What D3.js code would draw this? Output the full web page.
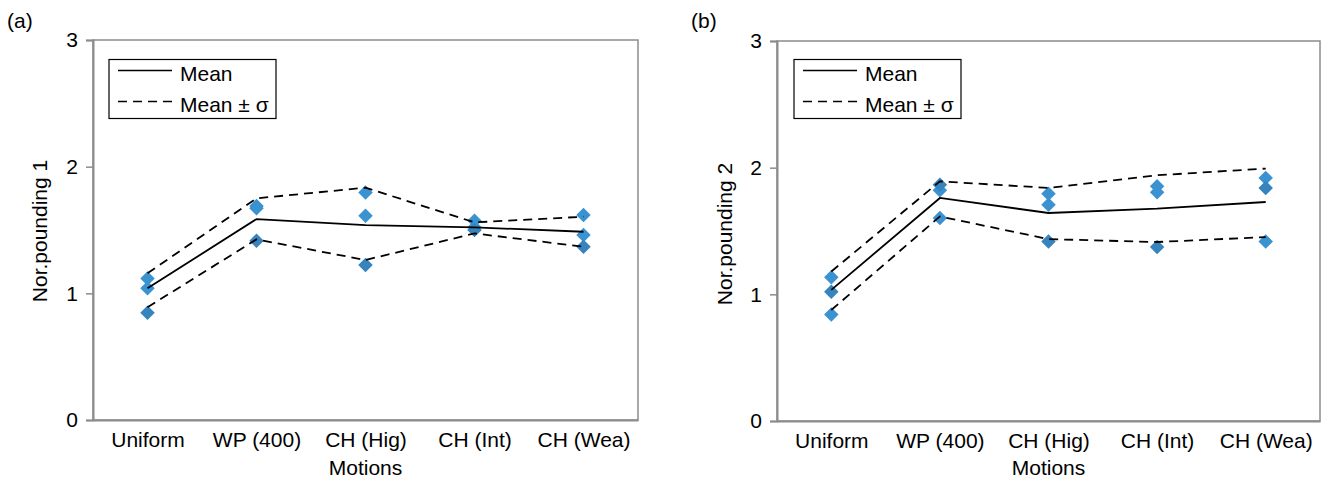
<!DOCTYPE html>
<html>
<head>
<meta charset="utf-8">
<script src="https://cdn.jsdelivr.net/npm/d3@7/dist/d3.min.js"></script>
<style>
  html, body { margin: 0; padding: 0; background: #fff; }
  svg { display: block; font-family: "Liberation Sans", Arial, Helvetica, sans-serif; }
</style>
</head>
<body>
<div id="chart"></div>
<script>
// categories and tick labels
var motions = ["Uniform", "WP (400)", "CH (Hig)", "CH (Int)", "CH (Wea)"];
var yTicks = [0, 1, 2, 3];

// (a) Nor.pounding 1 - individual records per motion
var a_run1 = [1.118, 1.689, 1.797, 1.573, 1.618];
var a_run2 = [1.040, 1.671, 1.613, 1.521, 1.460];
var a_run3 = [0.847, 1.415, 1.223, 1.500, 1.368];
var a_mean  = [1.040, 1.586, 1.539, 1.521, 1.486];
var a_upper = [1.158, 1.750, 1.834, 1.560, 1.605];
var a_lower = [0.890, 1.426, 1.263, 1.473, 1.368];

// (b) Nor.pounding 2
var b_run1 = [1.135, 1.821, 1.795, 1.853, 1.919];
var b_run2 = [0.841, 1.602, 1.708, 1.805, 1.417];
var b_run3 = [1.020, 1.866, 1.417, 1.373, 1.840];
var b_mean  = [1.035, 1.761, 1.642, 1.676, 1.729];
var b_upper = [1.180, 1.892, 1.840, 1.940, 1.993];
var b_lower = [0.876, 1.615, 1.436, 1.413, 1.452];

(function() {
  "use strict";

  var W = 1322, H = 486;
  var light = "#3a93d0", dark = "#3683bd", axisGrey = "#8c8c8c";
  var fontSize = "21px", dash = "9,6";

  var svg = d3.select("#chart").append("svg")
      .attr("width", W)
      .attr("height", H);

  /**
   * draws one panel: frame, axes, runs as diamonds, mean and mean +- sigma lines
   */
  function panel(opts) {
    var g = svg.append("g");
    var x = d3.scalePoint().domain(motions).range([opts.left, opts.right]).padding(0.5);
    var y = d3.scaleLinear().domain([0, 3]).range([opts.bottom, opts.top]);

    // plot frame
    g.append("rect")
        .attr("x", opts.left).attr("y", opts.top)
        .attr("width", opts.right - opts.left).attr("height", opts.bottom - opts.top)
        .attr("fill", "none").attr("stroke", axisGrey).attr("stroke-width", 1.5);

    // y axis
    var ya = g.append("g")
        .attr("transform", "translate(" + opts.left + ",0)")
        .call(d3.axisLeft(y).tickValues(yTicks).tickFormat(d3.format("d")).tickSize(7).tickPadding(8));
    // x axis (labels only)
    var xa = g.append("g")
        .attr("transform", "translate(0," + opts.bottom + ")")
        .call(d3.axisBottom(x).tickSize(0).tickPadding(12));
    [ya, xa].forEach(function(ax) {
      ax.select(".domain").attr("stroke", axisGrey).attr("stroke-width", 2);
      ax.selectAll(".tick line").attr("stroke", axisGrey).attr("stroke-width", 1.5);
      ax.selectAll("text").attr("fill", "#000").style("font-size", fontSize);
    });

    // axis titles
    g.append("text")
        .attr("x", (opts.left + opts.right) / 2).attr("y", 475)
        .attr("text-anchor", "middle").style("font-size", fontSize)
        .text("Motions");
    g.append("text")
        .attr("transform", "translate(" + opts.titleX + "," + opts.titleY + ") rotate(-90)")
        .attr("text-anchor", "middle").attr("dy", "0.35em").style("font-size", fontSize)
        .text(opts.yTitle);
    g.append("text")
        .attr("x", opts.tagX).attr("y", 28).style("font-size", fontSize)
        .text(opts.tag);

    // diamonds
    var diamond = d3.symbol().type(d3.symbolSquare).size(105);
    opts.runs.forEach(function(r) {
      g.selectAll(null)
          .data(r.values)
          .enter()
        .append("path")
          .attr("d", diamond)
          .attr("fill", r.color)
          .attr("transform", function(d, i) {
            return "translate(" + x(motions[i]) + "," + y(d) + ") rotate(45)";
          });
    });

    // mean and mean +- sigma
    var line = d3.line()
        .x(function(d, i) { return x(motions[i]); })
        .y(function(d) { return y(d); });
    [[opts.mean, null], [opts.upper, dash], [opts.lower, dash]].forEach(function(l) {
      g.append("path")
          .attr("d", line(l[0]))
          .attr("fill", "none")
          .attr("stroke", "#000")
          .attr("stroke-width", 1.8)
          .attr("stroke-dasharray", l[1]);
    });

    // legend
    var lx = opts.left + opts.legendDx, ly = 59.5;
    var lg = g.append("g").attr("transform", "translate(" + lx + "," + ly + ")");
    lg.append("rect").attr("width", 167).attr("height", 59)
        .attr("fill", "#fff").attr("stroke", "#000").attr("stroke-width", 1.2);
    [["Mean", null, 11], ["Mean \u00b1 \u03c3", dash, 42]].forEach(function(e) {
      lg.append("line")
          .attr("x1", 9).attr("x2", 63).attr("y1", e[2]).attr("y2", e[2])
          .attr("stroke", "#000").attr("stroke-width", 1.6)
          .attr("stroke-dasharray", e[1]);
      lg.append("text")
          .attr("x", 71).attr("y", e[2] + 10)
          .style("font-size", fontSize)
          .text(e[0]);
    });
  }

  panel({
    left: 93, right: 638, top: 40, bottom: 420,
    titleX: 40, titleY: 231, tagX: 7, tag: "(a)", yTitle: "Nor.pounding 1", legendDx: 16,
    runs: [{values: a_run1, color: light}, {values: a_run2, color: light}, {values: a_run3, color: dark}],
    mean: a_mean, upper: a_upper, lower: a_lower
  });

  panel({
    left: 777, right: 1320, top: 41, bottom: 421,
    titleX: 725, titleY: 234, tagX: 691, tag: "(b)", yTitle: "Nor.pounding 2", legendDx: 17,
    runs: [{values: b_run1, color: light}, {values: b_run2, color: light}, {values: b_run3, color: dark}],
    mean: b_mean, upper: b_upper, lower: b_lower
  });
})();
</script>
</body>
</html>
